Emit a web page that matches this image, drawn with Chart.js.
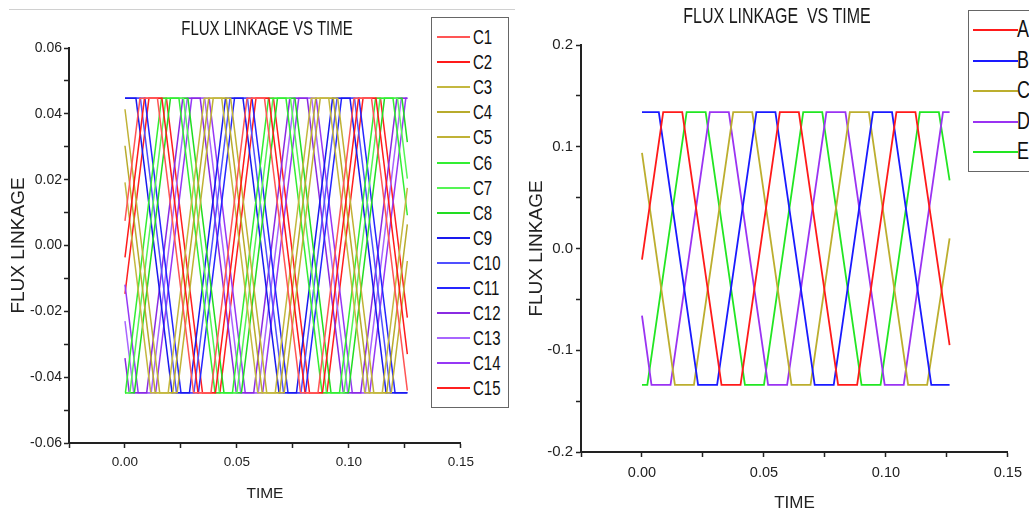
<!DOCTYPE html>
<html>
<head>
<meta charset="utf-8">
<script src="https://cdn.jsdelivr.net/npm/chart.js@4.4.0/dist/chart.umd.min.js"></script>
<style>
  body { margin: 0; background: #fff; width: 1029px; height: 516px; overflow: hidden; position: relative; }
  canvas { position: absolute; top: 0; }
  #leftChart { left: 0; }
  #rightChart { left: 520px; }
  .title { position: absolute; color: #1a1a1a; white-space: nowrap; transform: translate(-50%, -50%) scaleY(1.35);
           font-family: "Liberation Sans", Arial, sans-serif; }
  .legend { position: absolute; background: #fff; border: 1.5px solid #666; box-sizing: border-box; }
  .legend .sw { position: absolute; height: 2px; }
  .legend .lab { position: absolute; color: #111; white-space: nowrap; transform: translateY(-50%) scaleY(1.35);
                 font-family: "Liberation Sans", Arial, sans-serif; }
  #topRule { position: absolute; left: 9px; top: 9px; width: 506px; height: 1px; background: #d0d0d0; }
</style>
</head>
<body>
<div id="topRule"></div>
<canvas id="leftChart" width="480" height="516"></canvas>
<canvas id="rightChart" width="509" height="516"></canvas>
<div class="title" style="left:267px; top:28px; font-size:15px;">FLUX LINKAGE VS TIME</div>
<div class="title" style="left:777px; top:16px; font-size:16px;">FLUX LINKAGE&nbsp; VS TIME</div>
<div class="legend" id="leftLegend" style="left:431px; top:17px; width:78px; height:391px;"></div>
<div class="legend" id="rightLegend" style="left:968px; top:10px; width:80px; height:162px;"></div>
<script>
// left panel: 15 coils, corner points [time, flux]
const leftNames = ['C1','C2','C3','C4','C5','C6','C7','C8','C9','C10','C11','C12','C13','C14','C15'];
const leftColors = ['#ff5555','#ff1a1a','#c4b840','#b8ab2c','#c0b236','#33ee33','#55f555','#22dd22',
                    '#1a1aee','#5050ff','#2626ff','#8a2be2','#a865ff','#9638f5','#ff2020'];

const c1 = [[0,0.0075],[0.0067,0.0447],[0.0145,0.0447],[0.0306,-0.0447],[0.0384,-0.0447],[0.0545,0.0447],[0.0623,0.0447],[0.0784,-0.0447],[0.0862,-0.0447],[0.1023,0.0447],[0.1101,0.0447],[0.1261,-0.0441]];
const c2 = [[0,-0.0036],[0.0087,0.0447],[0.0165,0.0447],[0.0326,-0.0447],[0.0404,-0.0447],[0.0565,0.0447],[0.0643,0.0447],[0.0804,-0.0447],[0.0882,-0.0447],[0.1043,0.0447],[0.1121,0.0447],[0.1261,-0.0330]];
const c3 = [[0,0.0192],[0.0115,-0.0447],[0.0193,-0.0447],[0.0354,0.0447],[0.0432,0.0447],[0.0593,-0.0447],[0.0671,-0.0447],[0.0832,0.0447],[0.0910,0.0447],[0.1071,-0.0447],[0.1149,-0.0447],[0.1261,0.0175]];
const c4 = [[0,0.0303],[0.0135,-0.0447],[0.0213,-0.0447],[0.0374,0.0447],[0.0452,0.0447],[0.0613,-0.0447],[0.0691,-0.0447],[0.0852,0.0447],[0.0930,0.0447],[0.1091,-0.0447],[0.1169,-0.0447],[0.1261,0.0064]];
const c5 = [[0,0.0414],[0.0155,-0.0447],[0.0233,-0.0447],[0.0394,0.0447],[0.0472,0.0447],[0.0633,-0.0447],[0.0711,-0.0447],[0.0872,0.0447],[0.0950,0.0447],[0.1111,-0.0447],[0.1189,-0.0447],[0.1261,-0.0047]];
const c6 = [[0,-0.0447],[0.0002,-0.0447],[0.0163,0.0447],[0.0241,0.0447],[0.0402,-0.0447],[0.0480,-0.0447],[0.0641,0.0447],[0.0719,0.0447],[0.0880,-0.0447],[0.0958,-0.0447],[0.1119,0.0447],[0.1197,0.0447],[0.1261,0.0092]];
const c7 = [[0,-0.0447],[0.0022,-0.0447],[0.0183,0.0447],[0.0261,0.0447],[0.0422,-0.0447],[0.0500,-0.0447],[0.0661,0.0447],[0.0739,0.0447],[0.0900,-0.0447],[0.0978,-0.0447],[0.1139,0.0447],[0.1217,0.0447],[0.1261,0.0203]];
const c8 = [[0,-0.0447],[0.0042,-0.0447],[0.0203,0.0447],[0.0281,0.0447],[0.0442,-0.0447],[0.0520,-0.0447],[0.0681,0.0447],[0.0759,0.0447],[0.0920,-0.0447],[0.0998,-0.0447],[0.1159,0.0447],[0.1237,0.0447],[0.1261,0.0314]];
const c9 = [[0,0.0447],[0.0049,0.0447],[0.0210,-0.0447],[0.0288,-0.0447],[0.0449,0.0447],[0.0527,0.0447],[0.0688,-0.0447],[0.0766,-0.0447],[0.0927,0.0447],[0.1005,0.0447],[0.1166,-0.0447],[0.1261,-0.0447]];
const c10 = [[0,0.0447],[0.0069,0.0447],[0.0230,-0.0447],[0.0308,-0.0447],[0.0469,0.0447],[0.0547,0.0447],[0.0708,-0.0447],[0.0786,-0.0447],[0.0947,0.0447],[0.1025,0.0447],[0.1186,-0.0447],[0.1261,-0.0447]];
const c11 = [[0,0.0447],[0.0089,0.0447],[0.0250,-0.0447],[0.0328,-0.0447],[0.0489,0.0447],[0.0567,0.0447],[0.0728,-0.0447],[0.0806,-0.0447],[0.0967,0.0447],[0.1045,0.0447],[0.1206,-0.0447],[0.1261,-0.0447]];
const c12 = [[0,-0.0342],[0.0019,-0.0447],[0.0097,-0.0447],[0.0258,0.0447],[0.0336,0.0447],[0.0497,-0.0447],[0.0575,-0.0447],[0.0736,0.0447],[0.0814,0.0447],[0.0975,-0.0447],[0.1053,-0.0447],[0.1214,0.0447],[0.1261,0.0447]];
const c13 = [[0,-0.0230],[0.0039,-0.0447],[0.0117,-0.0447],[0.0278,0.0447],[0.0356,0.0447],[0.0517,-0.0447],[0.0595,-0.0447],[0.0756,0.0447],[0.0834,0.0447],[0.0995,-0.0447],[0.1073,-0.0447],[0.1234,0.0447],[0.1261,0.0447]];
const c14 = [[0,-0.0119],[0.0059,-0.0447],[0.0137,-0.0447],[0.0298,0.0447],[0.0376,0.0447],[0.0537,-0.0447],[0.0615,-0.0447],[0.0776,0.0447],[0.0854,0.0447],[0.1015,-0.0447],[0.1093,-0.0447],[0.1254,0.0447],[0.1261,0.0447]];
const c15 = [[0,-0.0147],[0.0107,0.0447],[0.0185,0.0447],[0.0346,-0.0447],[0.0424,-0.0447],[0.0585,0.0447],[0.0663,0.0447],[0.0824,-0.0447],[0.0902,-0.0447],[0.1063,0.0447],[0.1141,0.0447],[0.1261,-0.0219]];
const leftSeries = [c1,c2,c3,c4,c5,c6,c7,c8,c9,c10,c11,c12,c13,c14,c15];

// right panel: 5 phases
const rightNames = ['A','B','C','D','E'];
const rightColors = ['#ff1a1a','#1a1aff','#bcae2e','#9a33f2','#22e622'];

const phaseA = [[0,-0.011],[0.0087,0.134],[0.0165,0.134],[0.0326,-0.134],[0.0404,-0.134],[0.0565,0.134],[0.0643,0.134],[0.0804,-0.134],[0.0882,-0.134],[0.1043,0.134],[0.1121,0.134],[0.1261,-0.095]];
const phaseB = [[0,0.134],[0.0069,0.134],[0.0230,-0.134],[0.0308,-0.134],[0.0469,0.134],[0.0547,0.134],[0.0708,-0.134],[0.0786,-0.134],[0.0947,0.134],[0.1025,0.134],[0.1186,-0.134],[0.1261,-0.134]];
const phaseC = [[0,0.094],[0.0135,-0.134],[0.0213,-0.134],[0.0374,0.134],[0.0452,0.134],[0.0613,-0.134],[0.0691,-0.134],[0.0852,0.134],[0.0930,0.134],[0.1091,-0.134],[0.1169,-0.134],[0.1261,0.010]];
const phaseD = [[0,-0.066],[0.0039,-0.134],[0.0117,-0.134],[0.0278,0.134],[0.0356,0.134],[0.0517,-0.134],[0.0595,-0.134],[0.0756,0.134],[0.0834,0.134],[0.0995,-0.134],[0.1073,-0.134],[0.1234,0.134],[0.1261,0.134]];
const phaseE = [[0,-0.134],[0.0022,-0.134],[0.0183,0.134],[0.0261,0.134],[0.0422,-0.134],[0.0500,-0.134],[0.0661,0.134],[0.0739,0.134],[0.0900,-0.134],[0.0978,-0.134],[0.1139,0.134],[0.1217,0.134],[0.1261,0.067]];
const rightSeries = [phaseA, phaseB, phaseC, phaseD, phaseE];

const xTicks = { min: -0.025, max: 0.15, step: 0.025, labelEvery: 0.05, digits: 2 };
const leftYTicks = { min: -0.06, max: 0.06, step: 0.01, labelEvery: 0.02, digits: 2 };
const rightYTicks = { min: -0.2, max: 0.2, step: 0.05, labelEvery: 0.1, digits: 1 };

const FONT = '"Liberation Sans", Arial, sans-serif';

function tickLabel(t, skipNeg) {
  return function(v) {
    const k = v / t.labelEvery;
    if (Math.abs(k - Math.round(k)) > 1e-6) return '';
    if (skipNeg && v < -1e-9) return '';
    return (Math.abs(v) < 1e-9 ? 0 : v).toFixed(t.digits);
  };
}

function makeChart(id, names, colors, series, cfg) {
  const datasets = series.map((s, i) => ({
    label: names[i],
    data: s.map(p => ({ x: p[0], y: p[1] })),
    borderColor: colors[i],
    borderWidth: cfg.lineWidth,
    pointRadius: 0,
    tension: 0,
    fill: false
  }));
  return new Chart(document.getElementById(id), {
    type: 'line',
    data: { datasets: datasets },
    options: {
      responsive: false,
      animation: false,
      devicePixelRatio: 1,
      layout: { padding: { left: 0, right: cfg.padRight, top: cfg.top, bottom: 0 } },
      plugins: { legend: { display: false }, tooltip: { enabled: false }, title: { display: false } },
      scales: {
        x: {
          type: 'linear',
          min: xTicks.min, max: xTicks.max,
          border: { display: true, color: '#222', width: 2 },
          grid: { drawOnChartArea: false, drawTicks: true, tickLength: 5, tickColor: '#222', tickWidth: 1.5 },
          ticks: { stepSize: xTicks.step, autoSkip: false, maxRotation: 0, padding: cfg.xTickPad, color: '#222',
                   font: { family: FONT, size: cfg.xTickSize }, callback: tickLabel(xTicks, true) },
          title: { display: true, text: 'TIME', color: '#222', font: { family: FONT, size: cfg.xTitleSize },
                   padding: { top: 0, bottom: cfg.xTitlePad } },
          afterFit: s => { s.height = cfg.xAxisHeight; }
        },
        y: {
          type: 'linear',
          min: cfg.yt.min, max: cfg.yt.max,
          border: { display: true, color: '#222', width: 2 },
          grid: { drawOnChartArea: false, drawTicks: true, tickLength: 5, tickColor: '#222', tickWidth: 1.5 },
          ticks: { stepSize: cfg.yt.step, autoSkip: false, padding: cfg.yTickPad, color: '#222',
                   font: { family: FONT, size: cfg.yTickSize }, callback: tickLabel(cfg.yt, false) },
          title: { display: true, text: 'FLUX LINKAGE', color: '#222',
                   font: { family: FONT, size: 19 },
                   padding: { top: cfg.yTitlePad, bottom: 0 } },
          afterFit: s => { s.width = cfg.yAxisWidth; }
        }
      }
    }
  });
}

makeChart('leftChart', leftNames, leftColors, leftSeries, {
  lineWidth: 1.5, padRight: 18, top: 48, xAxisHeight: 73, yAxisWidth: 69,
  yt: leftYTicks, xTickSize: 13.5, yTickSize: 14, xTitleSize: 15.5, xTitlePad: 13, yTitlePad: 7,
  yTickPad: 2, xTickPad: 6
});
makeChart('rightChart', rightNames, rightColors, rightSeries, {
  lineWidth: 1.8, padRight: 18, top: 45, xAxisHeight: 64, yAxisWidth: 61,
  yt: rightYTicks, xTickSize: 14.5, yTickSize: 15, xTitleSize: 17, xTitlePad: 2, yTitlePad: 5,
  yTickPad: 3, xTickPad: 7
});

// legends built from the same names / colours
function buildLegend(id, names, colors, first, gap, swX, swW, textX, size) {
  const box = document.getElementById(id);
  names.forEach((n, i) => {
    const y = first + i * gap;
    const sw = document.createElement('div');
    sw.className = 'sw';
    sw.style.cssText = `left:${swX}px; top:${y - 1}px; width:${swW}px; background:${colors[i]};`;
    const lab = document.createElement('div');
    lab.className = 'lab';
    lab.style.cssText = `left:${textX}px; top:${y}px; font-size:${size}px;`;
    lab.textContent = n;
    box.appendChild(sw);
    box.appendChild(lab);
  });
}
buildLegend('leftLegend', leftNames, leftColors, 19, 25.1, 5, 33, 41, 15);
buildLegend('rightLegend', rightNames, rightColors, 19, 30.5, 4, 45, 48, 18);
</script>
</body>
</html>
